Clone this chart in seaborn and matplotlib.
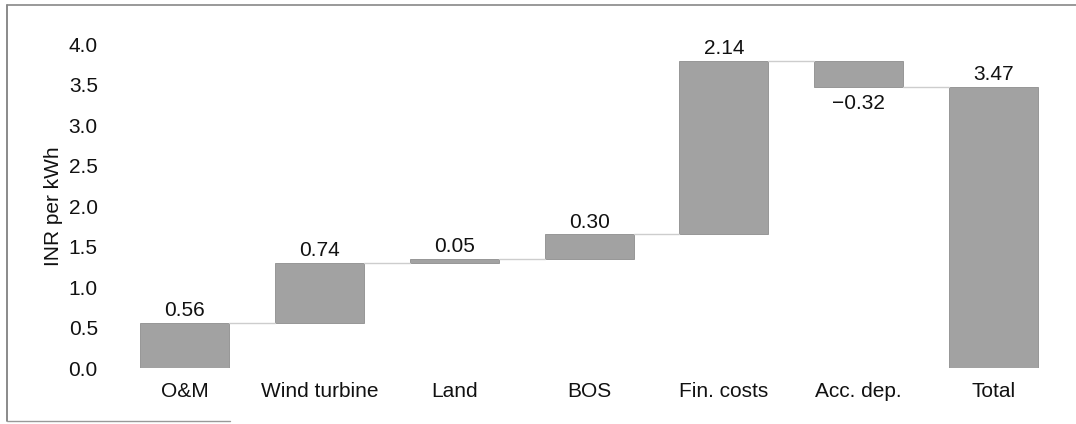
import numpy as np
import matplotlib
matplotlib.use("Agg")
import matplotlib.pyplot as plt
import seaborn as sns
from matplotlib.lines import Line2D

categories = ["O&M", "Wind turbine", "Land", "BOS", "Fin. costs", "Acc. dep.", "Total"]
deltas = [0.56, 0.74, 0.05, 0.30, 2.14, -0.32, 3.47]
labels = ["0.56", "0.74", "0.05", "0.30", "2.14", "\u22120.32", "3.47"]
is_total = [False, False, False, False, False, False, True]

# running base for each step of the waterfall
bottoms = []
running = 0.0
for d, tot in zip(deltas, is_total):
    if tot:
        bottoms.append(0.0)
    else:
        bottoms.append(running)
        running += d
ends = [b + d for b, d in zip(bottoms, deltas)]

sns.set_theme(style="white")
plt.rcParams["font.family"] = ["Liberation Sans", "DejaVu Sans"]
fs = 15

fig = plt.figure(figsize=(10.76, 4.24), dpi=100)
ax = fig.add_axes([0.109, 0.132, 0.877, 0.764])

bar_w = 0.66
sns.barplot(x=categories, y=deltas, bottom=bottoms, color="#a2a2a2",
            width=bar_w, saturation=1, edgecolor="#8e8e8e", linewidth=0.6, ax=ax)

# connectors between consecutive bars
for i in range(len(categories) - 1):
    ax.plot([i + bar_w / 2, i + 1 - bar_w / 2], [ends[i], ends[i]],
            color="#cdcdcd", lw=1.0, zorder=1)

# value labels
for i, (b, d, lab) in enumerate(zip(bottoms, deltas, labels)):
    if d >= 0:
        ax.annotate(lab, (i, b + d), xytext=(0, 2), textcoords="offset points",
                    ha="center", va="bottom", fontsize=fs, color="#111111")
    else:
        ax.annotate(lab, (i, b + d), xytext=(0, -5), textcoords="offset points",
                    ha="center", va="top", fontsize=fs, color="#111111")

ax.set_xlim(-0.5, len(categories) - 0.5)
ax.set_ylim(0, 4.0)
ax.set_yticks(np.arange(0, 4.01, 0.5))
ax.set_yticklabels([f"{v:.1f}" for v in np.arange(0, 4.01, 0.5)])
ax.tick_params(axis="y", length=0, pad=14, labelsize=fs, colors="#111111")
ax.tick_params(axis="x", length=0, pad=10, labelsize=fs, colors="#111111")
ax.set_ylabel("INR per kWh", fontsize=fs, color="#111111", labelpad=4)
ax.set_xlabel("")
sns.despine(ax=ax, left=True, bottom=True)

# scanned frame around the figure
fig.add_artist(Line2D([7 / 1076, 7 / 1076], [1 - 5 / 424, 1 - 421 / 424],
                      transform=fig.transFigure, color="#777777", lw=1.2))
fig.add_artist(Line2D([7 / 1076, 1.0], [1 - 5 / 424, 1 - 5 / 424],
                      transform=fig.transFigure, color="#888888", lw=1.2))
fig.add_artist(Line2D([7 / 1076, 230 / 1076], [1 - 421 / 424, 1 - 421 / 424],
                      transform=fig.transFigure, color="#999999", lw=1.0))

fig.savefig("out.png", dpi=100)
